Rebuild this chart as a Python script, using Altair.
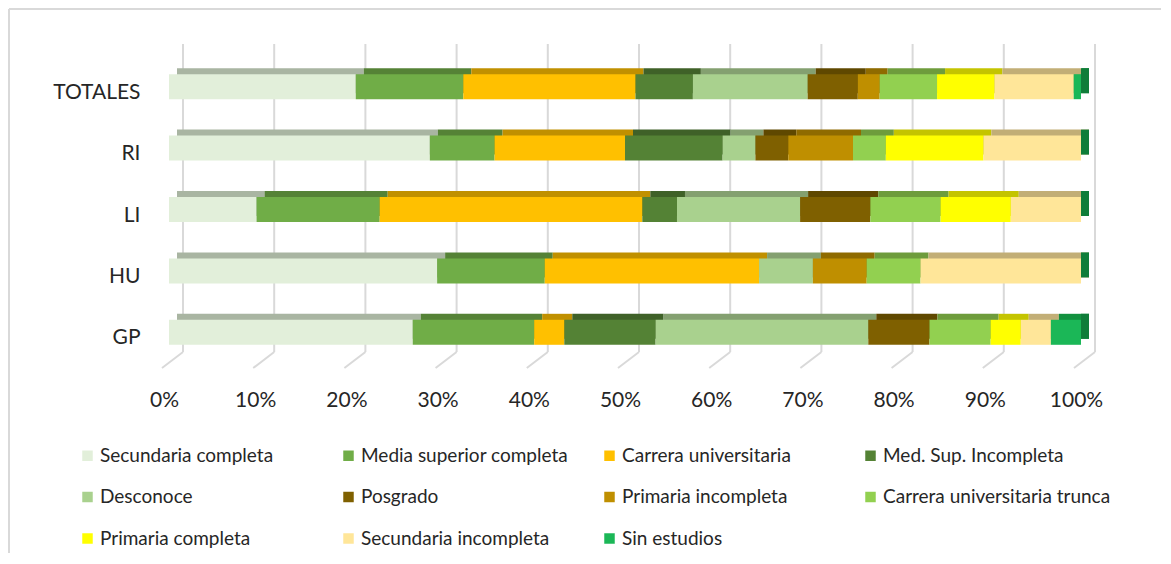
import altair as alt
import pandas as pd

categories = ["TOTALES", "RI", "LI", "HU", "GP"]
series = [
    "Secundaria completa", "Media superior completa", "Carrera universitaria",
    "Med. Sup. Incompleta", "Desconoce", "Posgrado", "Primaria incompleta",
    "Carrera universitaria trunca", "Primaria completa", "Secundaria incompleta",
    "Sin estudios",
]
totales = [20.5, 11.8, 18.9, 6.3, 12.6, 5.5, 2.4, 6.3, 6.3, 8.7, 0.8]
ri = [28.6, 7.1, 14.3, 10.7, 3.6, 3.6, 7.1, 3.6, 10.7, 10.7, 0.0]
li = [9.6, 13.5, 28.8, 3.8, 13.5, 7.7, 0.0, 7.7, 7.7, 7.7, 0.0]
hu = [29.4, 11.8, 23.5, 0.0, 5.9, 0.0, 5.9, 5.9, 0.0, 17.6, 0.0]
gp = [26.7, 13.3, 3.3, 10.0, 23.3, 6.7, 0.0, 6.7, 3.3, 3.3, 3.3]
grid_ticks = [0, 0.1, 0.2, 0.3, 0.4, 0.5, 0.6, 0.7, 0.8, 0.9, 1.0]

front_colors = ["#E2EFDA", "#70AD47", "#FFC000", "#548235", "#A9D18E", "#7F6000",
                "#BF8F00", "#92D050", "#FFFF00", "#FFE699", "#1BB757"]
top_colors = ["#A9B5A2", "#558236", "#C09000", "#3F6128", "#84A070", "#5F4800",
              "#8F6B00", "#6E9C3C", "#C4C400", "#C2AE76", "#12913F"]
side_color = "#0F7D39"

values = {"TOTALES": totales, "RI": ri, "LI": li, "HU": hu, "GP": gp}
rows = []
for c in categories:
    for i, s in enumerate(series):
        rows.append({"cat": c, "series": s, "idx": i, "value": values[c][i], "top": top_colors[i]})
df = pd.DataFrame(rows)
df_grid = pd.DataFrame({"t": grid_ticks})
df_side = pd.DataFrame({"cat": categories, "end": [1.0] * len(categories)})
df_one = pd.DataFrame({"a": [0]})

FONT = "Lato"
TXT = "#262626"
xaxis = alt.Axis(format=".0%", values=grid_ticks, labelFont=FONT, labelFontSize=21,
                 labelColor=TXT, labelPadding=26, ticks=False, tickSize=0,
                 domain=False, grid=False, title=None, labelOffset=-5, labelFlush=False)
yaxis = alt.Axis(labelFont=FONT, labelFontSize=21, labelColor=TXT, labelPadding=29,
                 ticks=False, tickSize=0, domain=False, title=None, labelOffset=6)
xscale = alt.Scale(domain=[0, 1], nice=False)
yscale = alt.Scale(paddingInner=0, paddingOuter=0)

frame_v = alt.Chart(df_one).mark_rule(color="#D9D9D9", strokeWidth=2).encode(
    x=alt.value(-160), y=alt.value(-47), y2=alt.value(500))
frame_h = alt.Chart(df_one).mark_rule(color="#D9D9D9", strokeWidth=2).encode(
    x=alt.value(-160), x2=alt.value(1100), y=alt.value(-47))

grid = alt.Chart(df_grid).mark_rule(color="#D9D9D9", strokeWidth=2, xOffset=14).encode(
    x=alt.X("t:Q", axis=xaxis, scale=xscale), y=alt.value(-12), y2=alt.value(296))
diag = alt.Chart(df_grid).mark_rule(color="#D9D9D9", strokeWidth=2, xOffset=14, x2Offset=-7).encode(
    x=alt.X("t:Q", axis=xaxis, scale=xscale), x2=alt.X2("t:Q"),
    y=alt.value(296), y2=alt.value(312))

back = alt.Chart(df).mark_bar(size=25, xOffset=8, x2Offset=8, yOffset=-6).encode(
    x=alt.X("value:Q", stack="normalize", axis=xaxis, scale=xscale),
    y=alt.Y("cat:N", sort=categories, axis=yaxis, scale=yscale),
    color=alt.Color("top:N", scale=None),
    order=alt.Order("idx:Q"),
)
side = alt.Chart(df_side).mark_bar(size=25, x2Offset=8, yOffset=-6, color=side_color).encode(
    x=alt.X("end:Q", axis=xaxis, scale=xscale), x2=alt.X2("end:Q"),
    y=alt.Y("cat:N", sort=categories, axis=yaxis, scale=yscale),
)
front = alt.Chart(df).mark_bar(size=25).encode(
    x=alt.X("value:Q", stack="normalize", axis=xaxis, scale=xscale),
    y=alt.Y("cat:N", sort=categories, axis=yaxis, scale=yscale),
    color=alt.Color("series:N", scale=alt.Scale(domain=series, range=front_colors),
                    legend=alt.Legend(orient="none", legendX=-91, legendY=390, columns=4,
                                      direction="horizontal",
                                      gridAlign="all", symbolType="square", symbolSize=110,
                                      symbolStrokeWidth=0, labelFont=FONT, labelFontSize=19,
                                      labelColor=TXT, columnPadding=11, rowPadding=21.5,
                                      labelOffset=3, title=None, padding=0, labelLimit=400)),
    order=alt.Order("idx:Q"),
)

chart = alt.layer(frame_v, frame_h, grid, diag, back, side, front).properties(
    width=912, height=307,
    padding={"left": 161, "top": 48, "right": 80, "bottom": 190},
    autosize=alt.AutoSizeParams(type="none"),
).configure_view(stroke=None)

chart.save("out.html", embed_options={"renderer": "svg", "actions": False})
